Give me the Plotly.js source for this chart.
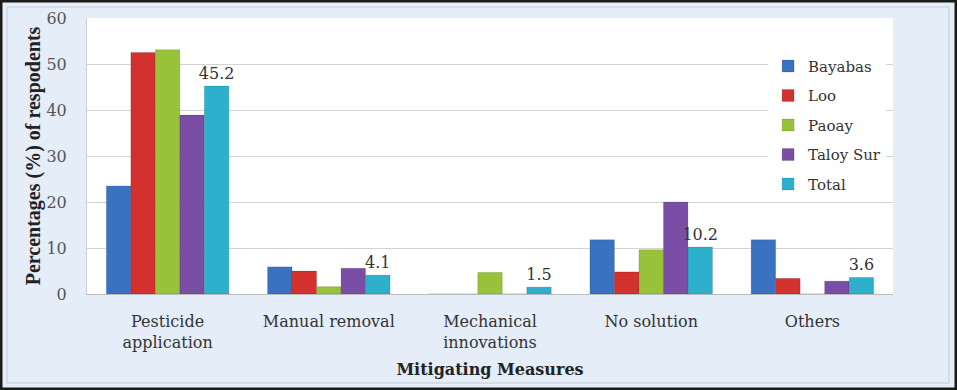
<!DOCTYPE html>
<html>
<head>
<meta charset="utf-8">
<script src="https://cdn.plot.ly/plotly-3.0.1.min.js"></script>
<style>html,body{margin:0;padding:0;background:#fff;}#chart{width:957px;height:390px;}</style>
</head>
<body>
<div id="chart"></div>
<script>
const categories = ["Pesticide<br>application", "Manual removal", "Mechanical<br>innovations", "No solution", "Others"];
const seriesNames = ["Bayabas", "Loo", "Paoay", "Taloy Sur", "Total"];
const bayabas = [23.5, 5.9, 0, 11.8, 11.8];
const loo = [52.5, 5.0, 0, 4.8, 3.4];
const paoay = [53.1, 1.6, 4.7, 9.6, 0];
const taloySur = [38.9, 5.6, 0, 20.0, 2.8];
const total = [45.2, 4.1, 1.5, 10.2, 3.6];
const totalLabels = ["45.2", "4.1", "1.5", "10.2", "3.6"];
const yTicks = [0, 10, 20, 30, 40, 50, 60];

const colors = ["#3a72c2", "#d2312d", "#98c23a", "#7b4ea6", "#2db0cc"];
const values = [bayabas, loo, paoay, taloySur, total];
const serif = "DejaVu Serif, serif";

const traces = seriesNames.map((name, i) => {
  const t = {
    type: "bar",
    name: name,
    x: categories,
    y: values[i],
    legendgroup: "g" + i,
    marker: {color: colors[i], line: {color: "rgba(0,0,0,0.25)", width: 0.5}},
    hoverinfo: "skip"
  };
  if (i === 4) {
    t.text = totalLabels;
    t.textposition = "outside";
    t.constraintext = "none";
    t.textfont = {family: serif, size: 16, color: "#333"};
    t.cliponaxis = false;
  }
  return t;
});

const layout = {
  width: 957, height: 390,
  margin: {l: 87, r: 64, t: 18, b: 96},
  paper_bgcolor: "#e4edf8",
  plot_bgcolor: "#ffffff",
  barmode: "group",
  bargap: 0.24,
  bargroupgap: 0,
  showlegend: true,
  legend: {
    x: 0.845, y: 0.885, xanchor: "left", yanchor: "top",
    bgcolor: "#ffffff",
    font: {family: serif, size: 15, color: "#333"},
    traceorder: "grouped",
    tracegroupgap: 7,
    itemwidth: 30
  },
  xaxis: {
    tickfont: {family: serif, size: 16, color: "#333"},
    showgrid: false,
    ticks: "",
    ticklabelstandoff: 13,
    showline: true, linecolor: "#bbb",
    title: {text: "<b>Mitigating Measures</b>", font: {family: serif, size: 16, color: "#222"}, standoff: 12},
    automargin: false
  },
  yaxis: {
    range: [0, 60],
    tickvals: yTicks,
    tickfont: {family: serif, size: 16, color: "#555"},
    showgrid: true, gridcolor: "#d4d4d4",
    zeroline: true, zerolinecolor: "#bbb",
    showline: true, linecolor: "#ccc",
    ticks: "", ticklen: 0,
    ticklabelstandoff: 16,
    title: {text: "<b>Percentages (%) of respodents</b>", font: {family: "Liberation Serif, serif", size: 20, color: "#222"}, standoff: 0},
    automargin: false
  },
  shapes: [
    {type: "rect", xref: "paper", yref: "paper", x0: 0, x1: 1, y0: 0, y1: 1, layer: "below",
     fillcolor: "#ffffff", line: {width: 0}},
    {type: "rect", xref: "paper", yref: "paper",
     x0: -80/806, x1: 1 + 56/806, y0: -89/276, y1: 1 + 11/276,
     line: {color: "#c8ccd2", width: 1}, fillcolor: "rgba(0,0,0,0)"},
    {type: "rect", xref: "paper", yref: "paper",
     x0: -87/806, x1: 1 + 64/806, y0: -96/276, y1: 1 + 18/276,
     line: {color: "#1a1a1a", width: 5}, fillcolor: "rgba(0,0,0,0)"}
  ]
};

Plotly.newPlot("chart", traces, layout, {displayModeBar: false, staticPlot: true});
</script>
</body>
</html>
